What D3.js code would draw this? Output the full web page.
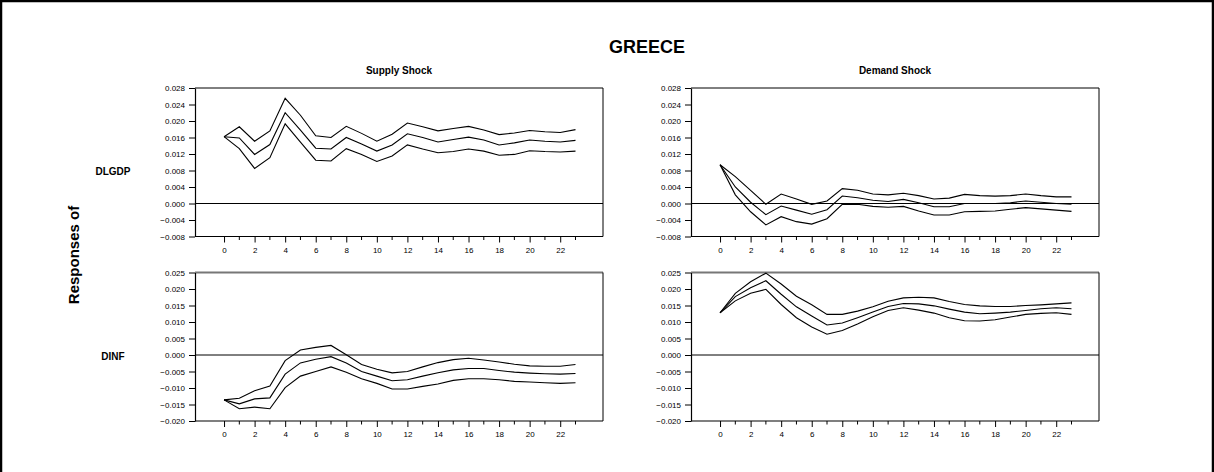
<!DOCTYPE html>
<html>
<head>
<meta charset="utf-8">
<script src="https://cdn.jsdelivr.net/npm/d3@7"></script>
<style>
html,body{margin:0;padding:0;background:#fff;}
svg{display:block;}
text{font-family:"Liberation Sans",Arial,sans-serif;fill:#000;}
</style>
</head>
<body>
<script>
const title = "GREECE";
const shocks = ["Supply Shock", "Demand Shock"];
const variables = ["DLGDP", "DINF"];
const periods = d3.range(0, 24);
const xTickLabels = [0,2,4,6,8,10,12,14,16,18,20,22];
const yTicksGDP = [-0.008,-0.004,0.000,0.004,0.008,0.012,0.016,0.020,0.024,0.028];
const yTicksINF = [-0.020,-0.015,-0.010,-0.005,0.000,0.005,0.010,0.015,0.020,0.025];

// Supply shock -> DLGDP
const supGdpMid = [0.0162,0.0159,0.0119,0.0143,0.0220,0.0178,0.0134,0.0132,0.0160,0.0144,0.0127,0.0142,0.0169,0.0160,0.0149,0.0155,0.0161,0.0154,0.0142,0.0147,0.0154,0.0151,0.0149,0.0153];
const supGdpUp  = [0.0162,0.0186,0.0151,0.0176,0.0255,0.0214,0.0164,0.0160,0.0187,0.0170,0.0151,0.0168,0.0195,0.0186,0.0176,0.0182,0.0187,0.0178,0.0167,0.0171,0.0177,0.0174,0.0172,0.0179];
const supGdpLo  = [0.0162,0.0133,0.0085,0.0111,0.0193,0.0149,0.0105,0.0103,0.0133,0.0119,0.0102,0.0115,0.0142,0.0132,0.0123,0.0126,0.0132,0.0127,0.0117,0.0119,0.0128,0.0126,0.0125,0.0127];
// Demand shock -> DLGDP
const demGdpMid = [0.0094,0.0040,0.0003,-0.0027,-0.0006,-0.0016,-0.0026,-0.0015,0.0018,0.0014,0.0008,0.0005,0.0010,0.0002,-0.0008,-0.0008,0.0000,0.0000,0.0000,0.0002,0.0006,0.0003,0.0000,-0.0002];
const demGdpUp  = [0.0094,0.0065,0.0032,-0.0002,0.0023,0.0011,-0.0002,0.0006,0.0036,0.0032,0.0023,0.0021,0.0025,0.0019,0.0011,0.0013,0.0022,0.0019,0.0018,0.0019,0.0023,0.0019,0.0016,0.0016];
const demGdpLo  = [0.0094,0.0021,-0.0020,-0.0052,-0.0032,-0.0044,-0.0050,-0.0037,-0.0002,-0.0002,-0.0007,-0.0009,-0.0007,-0.0018,-0.0028,-0.0028,-0.0020,-0.0019,-0.0018,-0.0014,-0.0010,-0.0013,-0.0016,-0.0019];
// Supply shock -> DINF
const supInfMid = [-0.0136,-0.0148,-0.0133,-0.0130,-0.0058,-0.0024,-0.0013,-0.0005,-0.0024,-0.0050,-0.0064,-0.0078,-0.0075,-0.0064,-0.0054,-0.0045,-0.0041,-0.0041,-0.0047,-0.0052,-0.0055,-0.0057,-0.0058,-0.0056];
const supInfUp  = [-0.0136,-0.0131,-0.0108,-0.0094,-0.0017,0.0015,0.0023,0.0029,0.0001,-0.0029,-0.0043,-0.0054,-0.0050,-0.0036,-0.0023,-0.0014,-0.0010,-0.0015,-0.0021,-0.0028,-0.0033,-0.0034,-0.0034,-0.0029];
const supInfLo  = [-0.0136,-0.0163,-0.0158,-0.0163,-0.0099,-0.0064,-0.0050,-0.0036,-0.0052,-0.0072,-0.0086,-0.0103,-0.0103,-0.0095,-0.0088,-0.0077,-0.0072,-0.0072,-0.0075,-0.0080,-0.0082,-0.0084,-0.0086,-0.0084];
// Demand shock -> DINF
const demInfMid = [0.0128,0.0177,0.0204,0.0225,0.0184,0.0146,0.0118,0.0091,0.0097,0.0113,0.0130,0.0147,0.0156,0.0155,0.0149,0.0139,0.0130,0.0125,0.0127,0.0130,0.0135,0.0140,0.0143,0.0140];
const demInfUp  = [0.0128,0.0187,0.0222,0.0248,0.0215,0.0178,0.0152,0.0123,0.0123,0.0133,0.0146,0.0163,0.0173,0.0175,0.0173,0.0162,0.0153,0.0149,0.0147,0.0147,0.0150,0.0152,0.0155,0.0158];
const demInfLo  = [0.0128,0.0164,0.0187,0.0199,0.0153,0.0113,0.0085,0.0063,0.0074,0.0094,0.0116,0.0135,0.0143,0.0136,0.0127,0.0113,0.0104,0.0103,0.0107,0.0115,0.0123,0.0126,0.0128,0.0123];

const W = 1214, H = 472;
const svg = d3.select("body").append("svg").attr("width", W).attr("height", H);

// outer frame
svg.append("rect").attr("x",1).attr("y",1).attr("width",W-2).attr("height",H+10)
  .attr("fill","none").attr("stroke","#000").attr("stroke-width",2.5);

svg.append("text").attr("x",647).attr("y",53).attr("text-anchor","middle")
  .attr("font-size",18).attr("font-weight","bold").text(title);

const lefts = [195, 691];
const pw = 408;
const tops = [88, 272.5];
const ph = 148.5;

shocks.forEach((s,i)=>{
  svg.append("text").attr("x", lefts[i]+pw/2).attr("y",74).attr("text-anchor","middle")
    .attr("font-size",10).attr("font-weight","bold").text(s);
});

svg.append("text").attr("transform","translate(79,255) rotate(-90)").attr("text-anchor","middle")
  .attr("font-size",15).attr("font-weight","bold").text("Responses of");
variables.forEach((v,j)=>{
  svg.append("text").attr("x",113).attr("y", tops[j]+ph/2+13).attr("text-anchor","middle")
    .attr("font-size",10).attr("font-weight","bold").text(v);
});

const panels = [
  {r:0,c:0,ticks:yTicksGDP,fmt:d3.format(".3f"),series:[supGdpUp,supGdpMid,supGdpLo]},
  {r:0,c:1,ticks:yTicksGDP,fmt:d3.format(".3f"),series:[demGdpUp,demGdpMid,demGdpLo]},
  {r:1,c:0,ticks:yTicksINF,fmt:d3.format(".3f"),series:[supInfUp,supInfMid,supInfLo]},
  {r:1,c:1,ticks:yTicksINF,fmt:d3.format(".3f"),series:[demInfUp,demInfMid,demInfLo]}
];

panels.forEach(p=>{
  const x0 = lefts[p.c], y0 = tops[p.r];
  const g = svg.append("g").attr("transform",`translate(${x0},${y0})`);
  const x = d3.scaleLinear().domain([-1.9,24.8]).range([0,pw]);
  const y = d3.scaleLinear().domain([p.ticks[0], p.ticks[p.ticks.length-1]]).range([ph,0]);

  // top & right frame
  g.append("line").attr("x1",0).attr("x2",pw).attr("y1",0).attr("y2",0)
    .attr("stroke", p.r===1 ? "#777" : "#000").attr("stroke-width", p.r===1 ? 2 : 1);
  g.append("line").attr("x1",pw).attr("x2",pw).attr("y1",0).attr("y2",ph)
    .attr("stroke","#000").attr("stroke-width",1);

  const ya = g.append("g").call(d3.axisLeft(y).tickValues(p.ticks).tickFormat(d=>p.fmt(d)).tickSize(6).tickSizeOuter(0));
  ya.select(".domain").attr("stroke-width",1.2);
  ya.selectAll("text").attr("font-size",8).attr("font-family","Liberation Sans, Arial, sans-serif").attr("dx",-1);

  const xa = g.append("g").attr("transform",`translate(0,${ph})`)
    .call(d3.axisBottom(x).tickValues(xTickLabels).tickFormat(d3.format("d")).tickSize(6).tickSizeOuter(0));
  xa.select(".domain").attr("d",`M0,0H${pw}`).attr("stroke-width",1.2);
  xa.selectAll("text").attr("font-size",8).attr("font-family","Liberation Sans, Arial, sans-serif").attr("dy","0.9em");
  // minor ticks
  g.append("g").attr("transform",`translate(0,${ph})`).selectAll("line")
    .data(periods.filter(d=>d%2===1)).join("line")
    .attr("x1",d=>x(d)).attr("x2",d=>x(d)).attr("y1",0).attr("y2",3.5).attr("stroke","#000");

  // zero line
  g.append("line").attr("x1",0).attr("x2",pw).attr("y1",y(0)).attr("y2",y(0))
    .attr("stroke","#000").attr("stroke-width",1);

  const line = d3.line().x((d,i)=>x(periods[i])).y(d=>y(d));
  p.series.forEach(s=>{
    g.append("path").datum(s).attr("d",line).attr("fill","none")
      .attr("stroke","#000").attr("stroke-width",1.1);
  });
});
</script>
</body>
</html>
